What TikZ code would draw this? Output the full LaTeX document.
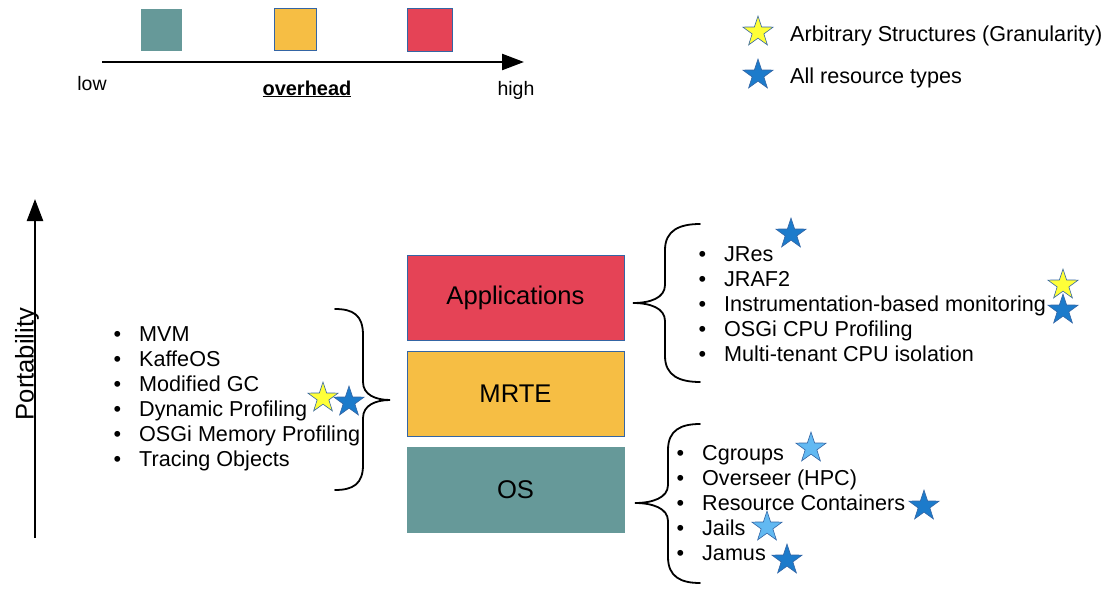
\documentclass[tikz,border=0pt]{standalone}
\usepackage{fontspec}
\setmainfont{Liberation Sans}
\usetikzlibrary{shapes.geometric,arrows.meta}
\definecolor{layerTeal}{HTML}{669999}
\definecolor{layerOrange}{HTML}{F6BE44}
\definecolor{layerRed}{HTML}{E54356}
\definecolor{layerEdge}{HTML}{3465A4}
\definecolor{starYellow}{HTML}{FFFF38}
\definecolor{starBlue}{HTML}{1C7BCB}
\definecolor{starLight}{HTML}{62B9F2}

\tikzset{
	layer/.style={draw=layerEdge, line width=1pt, minimum width=217pt, minimum height=85pt, inner sep=0pt, font=\fontsize{25.6}{30}\selectfont},
	swatch/.style={line width=1pt, inner sep=0pt},
	item/.style={anchor=base west, inner sep=0pt, font=\fontsize{21.6}{25}\selectfont},
	starmark/.style={star, star points=5, star point ratio=2.6, minimum size=32pt, inner sep=0pt, draw=layerEdge, line width=0.6pt},
	curly/.style={line width=1.8pt, line cap=round},
	axis/.style={line width=2.4pt, -{Triangle[length=22pt,width=16pt]}}
}

\begin{document}
\begin{tikzpicture}[x=1pt, y=1pt]
	\useasboundingbox (0,0) rectangle (1104,-597);

	% overhead scale
	\node[swatch, fill=layerTeal, minimum width=41pt, minimum height=42pt] (swTeal) at (161.5,-29.5) {};
	\node[swatch, fill=layerOrange, draw=layerEdge, minimum width=42pt, minimum height=42pt] (swOrange) at (295,-29) {};
	\node[swatch, fill=layerRed, draw=layerEdge, minimum width=45pt, minimum height=43pt] (swRed) at (429.5,-29.5) {};
	\coordinate (ohLow) at (102,-62);
	\coordinate (ohHigh) at (524,-62);
	\draw[axis] (ohLow) -- (ohHigh);
	\node[anchor=base, inner sep=0pt, font=\fontsize{19.5}{22}\selectfont] (lowLabel) at (92,-90) {low};
	\node[anchor=base, inner sep=0pt, font=\fontsize{19.5}{22}\selectfont] (highLabel) at (516,-95) {high};
	\node[anchor=base, inner sep=0pt, font=\fontsize{20}{22}\selectfont] (ohLabel) at (307,-95) {\underline{\textbf{overhead}}};

	% legend
	\node[starmark, fill=starYellow] (legYellow) at (758,-32) {};
	\node[starmark, fill=starBlue] (legBlue) at (758,-75) {};
	\node[item] (legGran) at (790,-41) {Arbitrary Structures (Granularity)};
	\node[item] (legAll) at (790,-83) {All resource types};

	% portability axis
	\coordinate (portLow) at (35,-538);
	\coordinate (portHigh) at (35,-199);
	\draw[axis] (portLow) -- (portHigh);
	\node[rotate=90, inner sep=0pt, font=\fontsize{25.6}{30}\selectfont] (portLabel) at (27,-364) {Portability};

	% layers
	\node[layer, fill=layerRed] (apps) at (515.5,-297.5) {Applications};
	\node[layer, fill=layerOrange] (mrte) at (515.5,-393.5) {MRTE};
	\node[layer, fill=layerTeal, draw=layerTeal] (os) at (515.5,-489.5) {OS};

	% MRTE techniques
	\foreach \txt [count=\i] in {MVM, KaffeOS, Modified GC, Dynamic Profiling, OSGi Memory Profiling, Tracing Objects}
		\node[item] (mrteItem\i) at (113.5,-316-25*\i) {\makebox[25.5pt][l]{\textbullet}\txt};
	\draw[curly] (335,-309) .. controls (353,-309) and (363,-315) .. (363,-335) -- (363,-382)
		.. controls (363,-395) and (376,-400) .. (390,-400)
		.. controls (376,-400) and (363,-405) .. (363,-418) -- (363,-465)
		.. controls (363,-484) and (353,-490) .. (335,-490);
	\node[starmark, fill=starYellow] (mrteGran) at (323,-398) {};
	\node[starmark, fill=starBlue] (mrteAll) at (349,-402) {};

	% application techniques
	\foreach \txt [count=\i] in {JRes, JRAF2, Instrumentation-based monitoring, OSGi CPU Profiling, Multi-tenant CPU isolation}
		\node[item] (appItem\i) at (698.5,-236-25*\i) {\makebox[25.5pt][l]{\textbullet}\txt};
	\draw[curly] (700,-224) .. controls (680,-224) and (665,-230) .. (665,-250) -- (665,-285)
		.. controls (665,-298) and (650,-303) .. (633,-303)
		.. controls (650,-303) and (665,-308) .. (665,-321) -- (665,-356)
		.. controls (665,-376) and (680,-382) .. (700,-382);
	\node[starmark, fill=starBlue] (jresAll) at (791,-234) {};
	\node[starmark, fill=starYellow] (instrGran) at (1063,-285) {};
	\node[starmark, fill=starBlue] (instrAll) at (1063,-310) {};

	% OS techniques
	\foreach \txt [count=\i] in {Cgroups, Overseer (HPC), Resource Containers, Jails, Jamus}
		\node[item] (osItem\i) at (676.5,-435-25*\i) {\makebox[25.5pt][l]{\textbullet}\txt};
	\draw[curly] (700,-424) .. controls (681,-424) and (668,-430) .. (668,-450) -- (668,-485)
		.. controls (668,-498) and (652,-503) .. (635,-503)
		.. controls (652,-503) and (668,-508) .. (668,-521) -- (668,-557)
		.. controls (668,-577) and (681,-583) .. (700,-583);
	\node[starmark, fill=starLight] (cgroupsStar) at (811,-448) {};
	\node[starmark, fill=starBlue] (rcStar) at (924,-506) {};
	\node[starmark, fill=starLight] (jailsStar) at (767,-527) {};
	\node[starmark, fill=starBlue] (jamusStar) at (787,-560) {};
\end{tikzpicture}
\end{document}
